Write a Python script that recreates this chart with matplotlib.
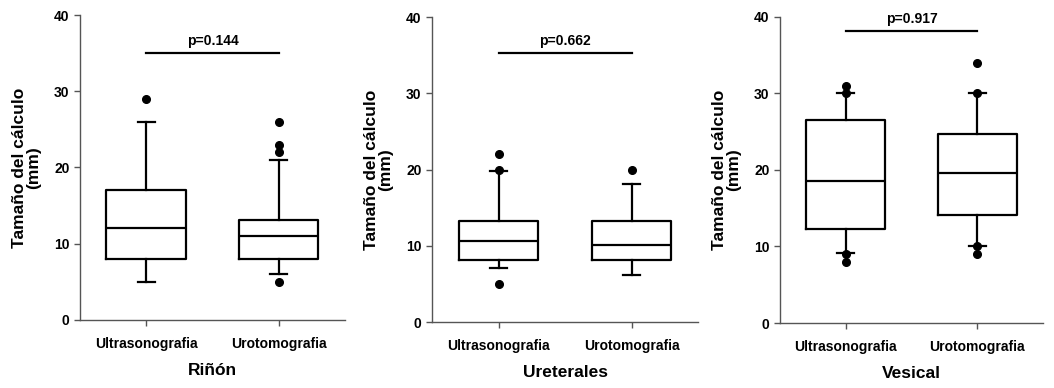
import matplotlib.pyplot as plt

plt.rcParams['font.family'] = ['Liberation Sans', 'DejaVu Sans']
plt.rcParams['font.weight'] = 'bold'

groups = ['Ultrasonografia', 'Urotomografia']
panels = ['Riñón', 'Ureterales', 'Vesical']
pvals = ['p=0.144', 'p=0.662', 'p=0.917']
bar_y = [35, 35.3, 38.1]

# box stats per panel: [ultrasonografia, urotomografia]
whislo = [[5, 6], [7.1, 6.1], [9.1, 10.1]]
q1 = [[8, 8], [8.1, 8.1], [12.3, 14.1]]
med = [[12, 11], [10.6, 10.1], [18.6, 19.6]]
q3 = [[17, 13.1], [13.2, 13.3], [26.5, 24.7]]
whishi = [[26, 21], [19.8, 18.1], [30, 30]]
fliers = [[[29], [26, 23, 22, 5]],
          [[22, 20, 5], [20]],
          [[31, 30, 9, 8], [34, 30, 10, 9]]]

positions = [
    [0.0759, 0.1753, 0.2514, 0.786],
    [0.4099, 0.1701, 0.2524, 0.786],
    [0.7400, 0.1675, 0.2495, 0.789],
]

fig = plt.figure(figsize=(10.54, 3.88), dpi=100)

for i in range(3):
    ax = fig.add_axes(positions[i])
    stats = []
    for j in range(2):
        stats.append(dict(whislo=whislo[i][j], q1=q1[i][j], med=med[i][j],
                          q3=q3[i][j], whishi=whishi[i][j], fliers=fliers[i][j]))
    ax.bxp(stats, positions=[1, 2], widths=0.6, capwidths=0.13,
           boxprops=dict(color='black', linewidth=1.6),
           medianprops=dict(color='black', linewidth=1.6),
           whiskerprops=dict(color='black', linewidth=1.6),
           capprops=dict(color='black', linewidth=1.6),
           flierprops=dict(marker='o', markerfacecolor='black',
                           markeredgecolor='black', markersize=5.5))
    ax.plot([1, 2], [bar_y[i], bar_y[i]], color='black', linewidth=1.6)
    ax.text(1.5, bar_y[i] + 0.7, pvals[i], ha='center', va='bottom',
            fontsize=10, fontweight='bold')

    ax.set_xlim(0.5, 2.5)
    ax.set_ylim(0, 40)
    ax.set_yticks([0, 10, 20, 30, 40])
    ax.set_xticks([1, 2])
    ax.set_xticklabels(groups)
    ax.spines['top'].set_visible(False)
    ax.spines['right'].set_visible(False)
    for s in ['left', 'bottom']:
        ax.spines[s].set_color('#555555')
        ax.spines[s].set_linewidth(1.0)
    ax.tick_params(axis='both', direction='out', length=4, width=1.0,
                   color='#555555', labelsize=10)
    ax.tick_params(axis='x', pad=8)
    for lab in ax.get_xticklabels() + ax.get_yticklabels():
        lab.set_fontweight('bold')
    ax.set_xlabel(panels[i], fontsize=12.5, fontweight='bold', labelpad=9)
    ax.set_ylabel('Tamaño del cálculo\n(mm)', fontsize=12.5,
                  fontweight='bold', labelpad=9, linespacing=1.0)

fig.savefig('out.png', dpi=100)
